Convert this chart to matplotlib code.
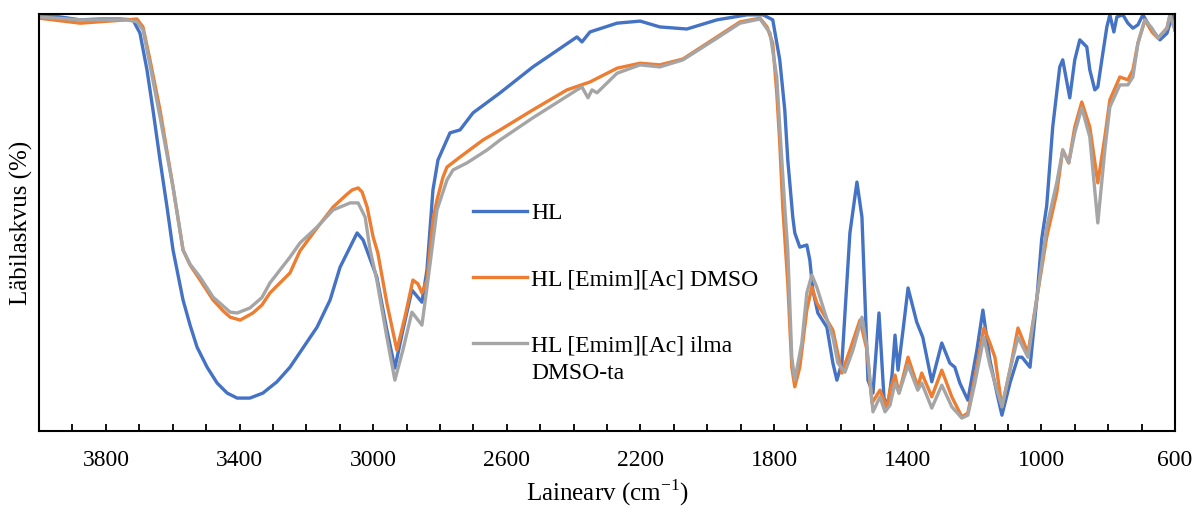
import numpy as np
import matplotlib
matplotlib.use("Agg")
import matplotlib.pyplot as plt
from matplotlib.ticker import FixedLocator, MultipleLocator
from matplotlib.legend_handler import HandlerLine2D

plt.rcParams['font.family'] = ['Liberation Serif', 'DejaVu Serif']
plt.rcParams['mathtext.fontset'] = 'custom'
plt.rcParams['mathtext.rm'] = 'Liberation Serif'

# HL
hl_wn = [4000, 3937, 3877, 3817, 3758, 3719, 3698, 3677, 3659, 3638, 3617, 3599,
         3569, 3548, 3527, 3497, 3467, 3437, 3407, 3369, 3330, 3288, 3249, 3210,
         3168, 3129, 3099, 3048, 3030, 3000, 2989,
         2959, 2935, 2911, 2884, 2854, 2839, 2821, 2806, 2770, 2740, 2701, 2620,
         2522, 2390, 2375, 2351, 2270, 2201, 2142, 2061, 1971, 1881, 1833, 1804,
         1783, 1768, 1759, 1744, 1738, 1723, 1702, 1693, 1684, 1669, 1642, 1624,
         1612, 1597, 1573, 1552, 1537, 1528, 1519, 1504, 1486, 1471, 1459, 1447,
         1438, 1429, 1414, 1399, 1373, 1355, 1328, 1298, 1274, 1259, 1244, 1220,
         1193, 1175, 1154, 1133, 1118, 1094, 1070, 1058, 1034, 1013, 999, 984,
         966, 945, 936, 921, 915, 900, 885, 864, 855, 840, 831, 819, 804, 795,
         783, 774, 756, 741, 726, 711, 696, 675, 645, 624, 607, 600]
hl_t = [100.0, 99.3, 98.6, 98.8, 98.8, 98.6, 95.4, 86.6, 77.0, 65.0, 53.7, 43.4,
        31.4, 25.4, 20.1, 15.3, 11.5, 9.1, 7.9, 7.9, 9.1, 11.8, 15.3, 19.9,
        24.9, 31.4, 39.3, 47.5, 45.8, 39.3, 36.9,
        24.2, 15.1, 24.2, 33.8, 30.9, 38.6, 57.8, 65.0, 71.5, 72.2, 76.3, 81.1,
        87.3, 94.5, 93.3, 95.7, 97.8, 98.3, 96.9, 96.4, 98.6, 99.8, 99.8, 98.6,
        89.0, 77.0, 65.0, 51.3, 47.5, 44.1, 44.6, 41.0, 33.8, 28.3, 24.9, 16.3,
        12.2, 16.3, 47.5, 59.7, 51.3, 31.4, 12.2, 9.1, 28.3, 7.9, 6.2, 13.4,
        23.0, 14.6, 24.2, 34.3, 26.1, 22.5, 11.8, 21.1, 16.3, 15.3, 11.5, 7.4,
        19.4, 29.0, 17.0, 9.1, 3.8, 11.5, 17.7, 17.7, 15.3, 32.1, 46.0, 54.0,
        72.9, 87.3, 89.0, 82.5, 79.9, 89.0, 93.8, 92.1, 86.6, 81.8, 82.5, 89.0,
        96.9, 99.8, 95.7, 99.3, 99.8, 97.8, 96.6, 97.4, 99.8, 96.9, 93.8, 95.4,
        99.8, 96.2]

# HL [Emim][Ac] DMSO
dmso_wn = [4000, 3877, 3737, 3707, 3689, 3668, 3638, 3599, 3569, 3548, 3518, 3479,
           3449, 3428, 3398, 3360, 3333, 3309, 3279, 3249, 3219, 3168, 3120, 3078,
           3063, 3045, 3033, 3018,
           3000, 2986, 2959, 2929, 2905, 2881, 2866, 2854, 2839, 2821, 2809, 2791,
           2779, 2740, 2671, 2620, 2522, 2420, 2351, 2270, 2201, 2142, 2073, 1971,
           1902, 1842, 1821, 1804, 1792, 1783, 1774, 1759, 1747, 1738, 1723, 1702,
           1687, 1672, 1654, 1624, 1597, 1573, 1543, 1522, 1507, 1483, 1462, 1453,
           1438, 1426, 1399, 1370, 1358, 1328, 1298, 1268, 1238, 1220, 1199, 1172,
           1154, 1139, 1118, 1094, 1070, 1040, 1013, 984, 954, 936, 918, 900, 879,
           855, 831, 810, 795, 765, 741, 726, 711, 690, 669, 651, 624, 615, 600]
dmso_t = [99.0, 97.8, 98.6, 98.8, 96.9, 89.0, 77.0, 58.5, 43.4, 39.8, 36.2, 31.4,
          28.8, 27.3, 26.6, 28.3, 30.2, 33.1, 35.5, 37.9, 43.2, 48.7, 53.7, 56.8,
          57.8, 58.3, 57.3, 53.7,
          46.5, 42.7, 30.7, 19.4, 27.3, 36.2, 35.3, 33.1, 36.2, 50.6, 55.4, 60.9,
          63.3, 65.7, 69.8, 72.2, 77.0, 81.8, 83.7, 87.0, 88.2, 87.8, 89.2, 94.5,
          98.1, 99.0, 96.9, 93.0, 81.1, 69.1, 53.7, 35.5, 15.3, 10.6, 15.3, 29.0,
          34.5, 30.7, 28.3, 24.2, 13.9, 19.4, 26.6, 19.4, 6.7, 9.8, 5.5, 9.8,
          13.4, 9.1, 17.7, 10.6, 13.9, 8.2, 14.6, 8.2, 3.4, 4.3, 12.9, 24.7,
          21.1, 17.7, 5.8, 14.6, 24.7, 18.7, 32.1, 46.5, 57.1, 67.4, 64.3, 72.9, 78.9,
          72.9, 59.5, 70.5, 79.4, 84.9, 84.2, 86.6, 93.0, 98.6, 95.7, 94.2, 96.6, 99.8, 96.2]

# HL [Emim][Ac] ilma DMSO-ta
ilma_wn = [4000, 3877, 3737, 3707, 3689, 3668, 3638, 3599, 3569, 3548, 3518, 3479,
           3428, 3407, 3369, 3333, 3309, 3249, 3219, 3168, 3120, 3069, 3045, 3024,
           3009, 2989,
           2959, 2935, 2911, 2884, 2854, 2836, 2809, 2779, 2761, 2719, 2659, 2620,
           2522, 2390, 2375, 2357, 2345, 2330, 2270, 2201, 2142, 2073, 1971, 1902,
           1842, 1812, 1792, 1783, 1768, 1759, 1747, 1738, 1717, 1702, 1687, 1672,
           1648, 1624, 1609, 1588, 1564, 1537, 1522, 1504, 1483, 1468, 1453, 1438,
           1426, 1399, 1370, 1358, 1328, 1298, 1268, 1238, 1220, 1199, 1172, 1154,
           1133, 1118, 1094, 1070, 1040, 1013, 984, 954, 936, 918, 900, 879, 855,
           831, 810, 795, 765, 741, 726, 711, 690, 669, 651, 624, 615, 600]
ilma_t = [99.3, 98.6, 98.6, 98.1, 96.2, 87.8, 75.3, 58.5, 43.4, 40.0, 36.9, 32.1,
          28.5, 28.3, 29.5, 32.0, 35.5, 41.7, 45.1, 48.9, 53.0, 54.7, 54.7, 51.3,
          43.4, 36.2,
          22.5, 12.2, 19.4, 28.5, 25.4, 36.2, 53.0, 60.2, 62.6, 64.3, 67.4, 69.8,
          75.1, 81.8, 82.5, 79.9, 81.8, 81.1, 85.8, 87.8, 87.3, 89.0, 94.2, 97.8,
          98.8, 95.4, 84.9, 72.9, 53.7, 43.4, 17.7, 12.2, 21.1, 33.1, 37.4, 34.5,
          28.3, 22.5, 16.3, 14.1, 19.4, 27.3, 20.1, 4.6, 8.2, 4.6, 6.2, 11.5,
          9.1, 15.8, 9.8, 11.5, 5.5, 11.0, 5.8, 3.1, 3.8, 11.5, 22.5, 15.8,
          9.8, 5.8, 14.6, 22.5, 17.7, 32.1, 48.9, 59.5, 67.4, 64.3, 71.5, 77.5, 70.5,
          49.9, 67.4, 77.7, 83.0, 83.0, 84.9, 93.0, 98.6, 96.6, 94.2, 96.6, 99.8, 96.2]

series_labels = ["HL", "HL [Emim][Ac] DMSO", "HL [Emim][Ac] ilma\nDMSO-ta"]
series_colors = ["#4472C4", "#ED7D31", "#A5A5A5"]
x_ticks = [3800, 3400, 3000, 2600, 2200, 1800, 1400, 1000, 600]

LEG_LINESPACING = 1.4


class FirstLineHandler(HandlerLine2D):
    # put the legend line next to the first text row, like Excel does
    def create_artists(self, legend, orig_handle, xdescent, ydescent,
                       width, height, fontsize, trans):
        arts = super().create_artists(legend, orig_handle, xdescent, ydescent,
                                      width, height, fontsize, trans)
        for a in arts:
            a.set_ydata(np.asarray(a.get_ydata()) + 0.5 * LEG_LINESPACING * fontsize)
        return arts


fig = plt.figure(figsize=(11.98, 5.09), dpi=100)
ax = fig.add_axes([0.0326, 0.1532, 0.9482, 0.8193])

lines = []
for wn, t, lab, col in zip([hl_wn, dmso_wn, ilma_wn], [hl_t, dmso_t, ilma_t],
                           series_labels, series_colors):
    ln, = ax.plot(wn, t, color=col, lw=2.4, label=lab, solid_joinstyle='round')
    lines.append(ln)

ax.set_xlim(4000, 600)
ax.set_ylim(0, 100)
ax.xaxis.set_major_locator(FixedLocator(x_ticks))
ax.xaxis.set_minor_locator(MultipleLocator(100))
ax.tick_params(axis='x', which='both', direction='in', length=5, width=1.3,
               labelsize=17, pad=14)
ax.set_yticks([])
for s in ax.spines.values():
    s.set_linewidth(1.5)

ax.set_xlabel("Lainearv (cm$^{\\mathregular{-1}}$)", fontsize=18, labelpad=4)
ax.set_ylabel("Läbilaskvus (%)", fontsize=18, labelpad=4)

leg = ax.legend(handles=lines, loc='upper left', bbox_to_anchor=(0.382, 0.548),
                frameon=False, fontsize=17, handlelength=2.29, handletextpad=0.17,
                labelspacing=1.9, borderpad=0, borderaxespad=0,
                handler_map={lines[2]: FirstLineHandler()})
leg.get_texts()[2].set_linespacing(LEG_LINESPACING)

fig.savefig("out.png", dpi=100)
